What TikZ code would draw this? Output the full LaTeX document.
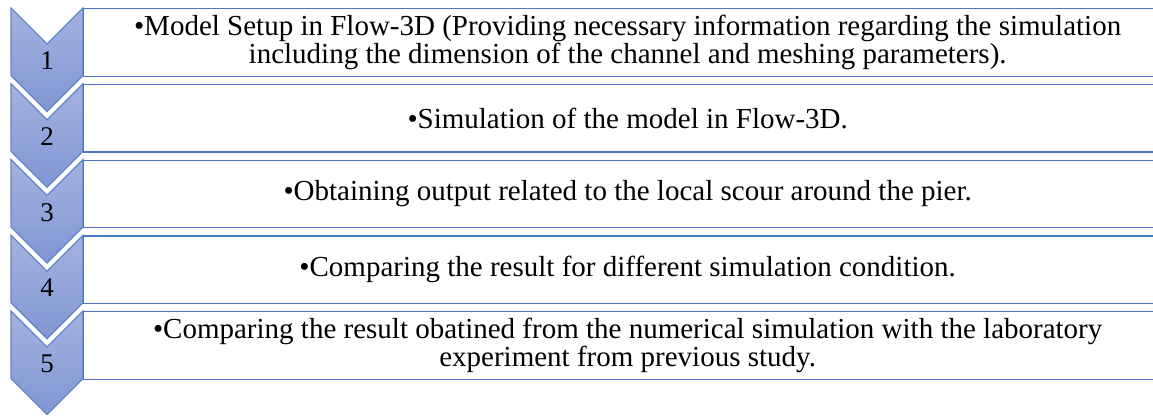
\documentclass[tikz,border=0pt]{standalone}
\usepackage{fontspec}
\setmainfont{Liberation Serif}
\definecolor{chevtop}{RGB}{164,178,223}
\definecolor{chevbot}{RGB}{128,150,211}
\definecolor{chevline}{RGB}{100,133,203}
\definecolor{boxline}{RGB}{74,118,198}
\begin{document}
\begin{tikzpicture}[x=1pt,y=-1pt,
  chev/.style={top color=chevtop,bottom color=chevbot,draw=chevline,line width=1.2pt,line join=miter},
  box/.style={draw=boxline,line width=1.3pt,fill=white,anchor=north west,minimum width=1088pt,minimum height=67.5pt,inner sep=0pt,align=center,font=\fontsize{29}{28}\selectfont},
  num/.style={font=\fontsize{27}{28}\selectfont,inner sep=0pt}]
\useasboundingbox (0,0) rectangle (1153,416);
\clip (0,0) rectangle (1153,416);
\foreach \i/\t in {1/8,2/83.75,3/159.5,4/235.25,5/311}{
  \pgfmathsetmacro{\b}{\t+67.5}
  \path[chev] (11,\t) -- (47,\t+36) -- (83,\t) -- (83,\b) -- (47,\b+36) -- (11,\b) -- cycle;
}
\node[box] (box1) at (83,8) {•Model Setup in Flow-3D (Providing necessary information regarding the simulation\\including the dimension of the channel and meshing parameters).};
\node[box] (box2) at (83,83.75) {•Simulation of the model in Flow-3D.};
\node[box] (box3) at (83,159.5) {•Obtaining output related to the local scour around the pier.};
\node[box] (box4) at (83,235.25) {•Comparing the result for different simulation condition.};
\node[box] (box5) at (83,311) {•Comparing the result obatined from the numerical simulation with the laboratory\\experiment from previous study.};
\node[num] (n1) at (47,61) {1};
\node[num] (n2) at (47,136.5) {2};
\node[num] (n3) at (47,212.5) {3};
\node[num] (n4) at (47,288) {4};
\node[num] (n5) at (47,364) {5};
\end{tikzpicture}
\end{document}
